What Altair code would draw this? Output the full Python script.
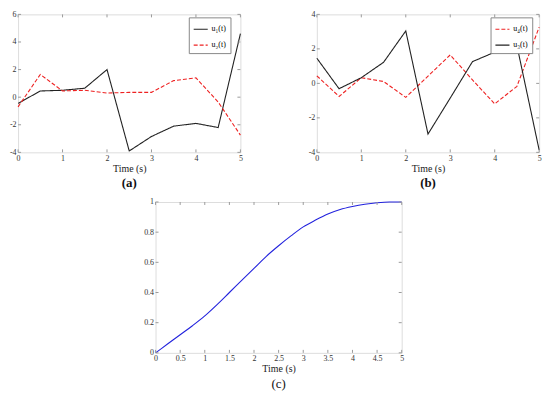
import altair as alt
import pandas as pd

# ---------------- data ----------------
t_ab = [0, 0.5, 1, 1.5, 2, 2.5, 3, 3.5, 4, 4.5, 5]
u1 = [-0.45, 0.45, 0.5, 0.65, 2.0, -3.9, -2.85, -2.1, -1.9, -2.2, 4.6]
u2 = [-0.7, 1.65, 0.45, 0.5, 0.3, 0.35, 0.35, 1.2, 1.4, -0.35, -2.75]
u3 = [1.46, -0.31, 0.33, 1.22, 3.04, -2.94, -0.85, 1.26, 1.81, 2.19, -3.87]
u4 = [0.44, -0.76, 0.33, 0.11, -0.81, 0.42, 1.65, 0.2, -1.19, -0.17, 3.26]

t_c = [0, 0.25, 0.5, 0.75, 1, 1.25, 1.5, 1.75, 2, 2.25, 2.5, 2.75, 3,
       3.25, 3.5, 3.75, 4, 4.25, 4.5, 4.75, 5]
s_c = [0, 0.06, 0.12, 0.18, 0.245, 0.32, 0.4, 0.48, 0.56, 0.64, 0.71,
       0.775, 0.835, 0.88, 0.92, 0.95, 0.97, 0.985, 0.995, 1.0, 1.0]

a_xticks = [0, 1, 2, 3, 4, 5]
a_yticks = [-4, -2, 0, 2, 4, 6]
b_xticks = [0, 1, 2, 3, 4, 5]
b_yticks = [-4, -2, 0, 2, 4]
c_xticks = [0, 0.5, 1, 1.5, 2, 2.5, 3, 3.5, 4, 4.5, 5]
c_yticks = [0, 0.2, 0.4, 0.6, 0.8, 1]

names_a = ["u\u2081(t)", "u\u2082(t)"]
names_b = ["u\u2084(t)", "u\u2083(t)"]

FONT = "Liberation Serif"
FRAME = "#9a9a9a"
W, H = 224, 139
WC, HC = 248, 152
TK = 3


def axes(xticks, yticks):
    ax = alt.Axis(values=xticks, title="Time (s)", ticks=False, domain=False,
                  grid=False, labelExpr="datum.value + ''", labelFontSize=8,
                  labelFont=FONT, labelColor="#333", labelPadding=2,
                  labelOverlap=False,
                  titleFont=FONT, titleFontSize=10, titleFontWeight="normal",
                  titleColor="#222", titlePadding=1, labelFlush=False)
    ay = alt.Axis(values=yticks, title=None, ticks=False, domain=False,
                  grid=False, labelExpr="datum.value + ''", labelFontSize=8,
                  labelFont=FONT, labelColor="#333", labelPadding=2,
                  labelOverlap=False, labelFlush=False)
    return ax, ay


def tick_layers(xticks, yticks, xsc, ysc, ax, ay, w, h):
    dx = pd.DataFrame({"t": xticks})
    dy = pd.DataFrame({"v": yticks})
    base_x = alt.Chart(dx).mark_rule(color=FRAME, strokeWidth=1)
    base_y = alt.Chart(dy).mark_rule(color=FRAME, strokeWidth=1)
    xe = alt.X("t:Q", scale=xsc, axis=ax)
    ye = alt.Y("v:Q", scale=ysc, axis=ay)
    return [
        base_x.encode(x=xe, y=alt.value(h), y2=alt.value(h - TK)),
        base_x.encode(x=xe, y=alt.value(0), y2=alt.value(TK)),
        base_y.encode(y=ye, x=alt.value(0), x2=alt.value(TK)),
        base_y.encode(y=ye, x=alt.value(w), x2=alt.value(w - TK)),
    ]


def line_panel(t, ya, yb, names, colors, dashes, ydom, xticks, yticks, label, lx):
    df = pd.DataFrame({
        "t": t + t,
        "v": ya + yb,
        "s": [names[0]] * len(t) + [names[1]] * len(t),
    })
    xsc = alt.Scale(domain=[0, 5], nice=False, zero=False)
    ysc = alt.Scale(domain=ydom, nice=False, zero=False)
    ax, ay = axes(xticks, yticks)
    leg = alt.Legend(title=None, orient="none", legendX=lx, legendY=3,
                     strokeColor="#888", fillColor="white", padding=4,
                     labelFont=FONT, labelFontSize=8, symbolType="stroke",
                     symbolSize=200, symbolStrokeWidth=1.1, rowPadding=4,
                     labelOffset=3)
    lines = alt.Chart(df).mark_line(strokeWidth=1.1).encode(
        x=alt.X("t:Q", scale=xsc, axis=ax),
        y=alt.Y("v:Q", scale=ysc, axis=ay),
        color=alt.Color("s:N", scale=alt.Scale(domain=names, range=colors),
                        legend=leg),
        strokeDash=alt.StrokeDash("s:N",
                                  scale=alt.Scale(domain=names, range=dashes),
                                  legend=leg),
    )
    return alt.layer(lines, *tick_layers(xticks, yticks, xsc, ysc, ax, ay, W, H)).properties(
        width=W, height=H,
        title=alt.TitleParams(label, orient="bottom", font=FONT, fontSize=13,
                              fontWeight="bold", color="#111", offset=4),
    )


pa = line_panel(t_ab, u1, u2, names_a, ["#222222", "#ee2222"],
                [[1, 0], [4, 2]], [-4, 6], a_xticks, a_yticks, "(a)", W - 52)
pb = line_panel(t_ab, u4, u3, names_b, ["#ee2222", "#222222"],
                [[4, 2], [1, 0]], [-4, 4], b_xticks, b_yticks, "(b)", W - 49)

dfc = pd.DataFrame({"t": t_c, "v": s_c})
xsc_c = alt.Scale(domain=[0, 5], nice=False, zero=False)
ysc_c = alt.Scale(domain=[0, 1], nice=False, zero=False)
axc, ayc = axes(c_xticks, c_yticks)
linec = alt.Chart(dfc).mark_line(color="#2222dd", strokeWidth=1.1,
                                 interpolate="monotone").encode(
    x=alt.X("t:Q", scale=xsc_c, axis=axc),
    y=alt.Y("v:Q", scale=ysc_c, axis=ayc),
)
pc = alt.layer(linec, *tick_layers(c_xticks, c_yticks, xsc_c, ysc_c, axc, ayc, WC, HC)).properties(
    width=WC, height=HC,
    title=alt.TitleParams("(c)", orient="bottom", font=FONT, fontSize=13,
                          fontWeight="normal", color="#111", offset=4),
)

top = alt.hconcat(pa, pb, spacing=64).resolve_scale(
    x="independent", y="independent",
    color="independent", strokeDash="independent",
).resolve_legend(color="independent", strokeDash="independent")
chart = alt.vconcat(top, pc, spacing=6, center=True).resolve_scale(
    x="independent", y="independent",
    color="independent", strokeDash="independent",
).resolve_legend(color="independent", strokeDash="independent").properties(
    padding=0
).configure_view(
    stroke=FRAME, strokeWidth=1
).configure(background="white")

chart.save("out.html", embed_options={"renderer": "svg", "actions": False})
